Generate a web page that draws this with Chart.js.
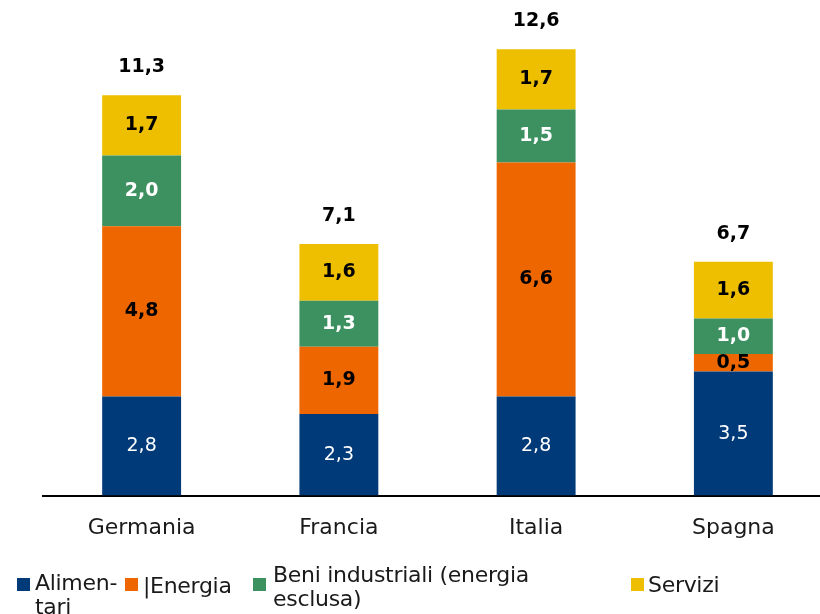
<!DOCTYPE html>
<html>
<head>
<meta charset="utf-8">
<script src="https://cdn.jsdelivr.net/npm/chart.js@4/dist/chart.umd.min.js"></script>
<style>
  html, body { margin: 0; padding: 0; background: #fff; overflow: hidden; }
  #wrap { position: relative; width: 820px; height: 614px; overflow: hidden; }
  #box { position: absolute; left: 0; top: 0; width: 832px; height: 614px; }
  .leg { position: absolute; font-family: "DejaVu Sans", sans-serif; font-size: 22px; line-height: 24px; color: #1a1a1a; letter-spacing: -0.3px; }
  .sq { position: absolute; width: 13px; height: 13px; }
</style>
</head>
<body>
<div id="wrap">
  <div id="box"><canvas id="inflChart"></canvas></div>
  <div class="sq" style="left:17px;top:578px;background:#003a78"></div>
  <div class="leg" style="left:35px;top:571px">Alimen-<br>tari</div>
  <div class="sq" style="left:125px;top:578px;background:#ee6600"></div>
  <div class="leg" style="left:143px;top:574px">|Energia</div>
  <div class="sq" style="left:253px;top:578px;background:#3d9160"></div>
  <div class="leg" style="left:273px;top:563px">Beni industriali (energia<br>esclusa)</div>
  <div class="sq" style="left:631px;top:578px;background:#eebf00"></div>
  <div class="leg" style="left:648px;top:573px">Servizi</div>
</div>
<script>
var paesi = ['Germania', 'Francia', 'Italia', 'Spagna'];
var alimentari = [2.8, 2.3, 2.8, 3.5];
var energia = [4.8, 1.9, 6.6, 0.5];
var beniIndustriali = [2.0, 1.3, 1.5, 1.0];
var servizi = [1.7, 1.6, 1.7, 1.6];
var totali = [11.3, 7.1, 12.6, 6.7];

var font = '"DejaVu Sans", sans-serif';

function virgola(v) { return v.toFixed(1).replace('.', ','); }

// etichette dentro le barre e totali sopra
var etichette = {
    id: 'etichette',
    afterDatasetsDraw: function (chart) {
        var ctx = chart.ctx;
        ctx.save();
        ctx.textAlign = 'center';
        ctx.textBaseline = 'middle';
        chart.data.datasets.forEach(function (ds, i) {
            var meta = chart.getDatasetMeta(i);
            meta.data.forEach(function (bar, j) {
                var y = (bar.y + bar.base) / 2;
                ctx.fillStyle = ds.labelColor;
                ctx.font = ds.labelWeight + ' 19px ' + font;
                ctx.fillText(virgola(ds.data[j]), bar.x, y);
            });
        });
        var top = chart.getDatasetMeta(chart.data.datasets.length - 1);
        ctx.fillStyle = '#000';
        ctx.font = 'bold 19px ' + font;
        top.data.forEach(function (bar, j) {
            ctx.fillText(virgola(totali[j]), bar.x, bar.y - 28);
        });
        ctx.restore();
    }
};

var infl = document.getElementById('inflChart').getContext('2d');
var inflChart = new Chart(infl, {
    type: 'bar',
    data: {
        labels: paesi,
        datasets: [
            { label: 'Alimentari', backgroundColor: '#003a78', data: alimentari, labelColor: '#fff', labelWeight: 'normal' },
            { label: 'Energia', backgroundColor: '#ee6600', data: energia, labelColor: '#000', labelWeight: 'bold' },
            { label: 'Beni industriali (energia esclusa)', backgroundColor: '#3d9160', data: beniIndustriali, labelColor: '#fff', labelWeight: 'bold' },
            { label: 'Servizi', backgroundColor: '#eebf00', data: servizi, labelColor: '#000', labelWeight: 'bold' }
        ]
    },
    options: {
        responsive: true,
        maintainAspectRatio: false,
        animation: false,
        layout: { padding: { left: 43, right: 0, top: 35, bottom: 62 } },
        plugins: { legend: { display: false }, tooltip: { enabled: false } },
        scales: {
            x: {
                stacked: true,
                grid: { display: false },
                border: { color: '#000', width: 2 },
                ticks: { color: '#1a1a1a', padding: 11, font: { family: 'DejaVu Sans', size: 22 } }
            },
            y: {
                stacked: true,
                display: false,
                min: 0,
                max: 13
            }
        },
        datasets: { bar: { barPercentage: 0.4, categoryPercentage: 1 } }
    },
    plugins: [etichette]
});
</script>
</body>
</html>
